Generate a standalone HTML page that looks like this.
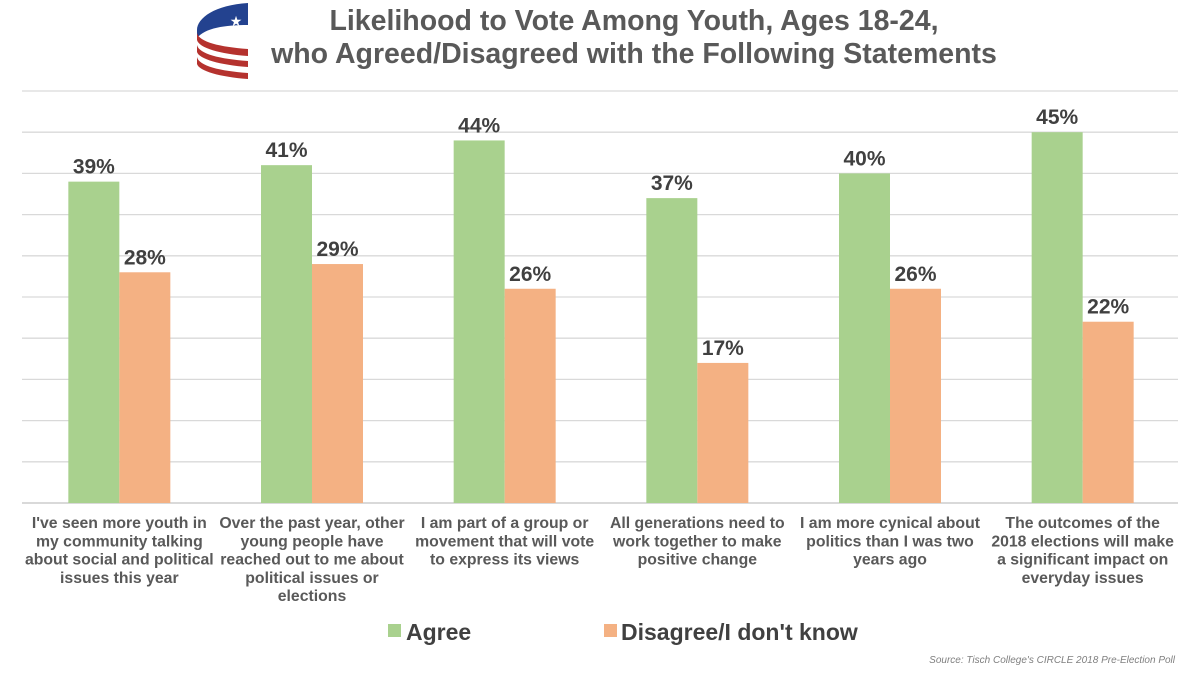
<!DOCTYPE html>
<html><head><meta charset="utf-8"><style>
body{margin:0;background:#fff;width:1200px;height:671px;overflow:hidden;font-family:"Liberation Sans",Arial,sans-serif}
</style></head><body>
<svg width="1200" height="671" font-family="Liberation Sans, Arial, sans-serif">
<g>
<path d="M248,3 L248,25 C225,25 205,28 197,38 L197,30 C197,18 215,5 248,3Z" fill="#23428f"/>
<text x="236" y="26" font-size="14" fill="#fff" text-anchor="middle">★</text>
<path d="M197,33 C199,42 220,47 248,49 L248,56 C220,54 199,48 197,40Z" fill="#b5322e"/>
<path d="M197,45 C199,54 220,59 248,61 L248,67 C220,65 199,59 197,52Z" fill="#b5322e"/>
<path d="M197,57 C199,66 220,71 248,73 L248,79 C220,77 199,71 197,64Z" fill="#b5322e"/>
</g>
<text text-anchor="middle" font-weight="bold" font-size="28.5" fill="#595959"><tspan x="634" y="30">Likelihood to Vote Among Youth, Ages 18-24,</tspan><tspan x="634" y="63">who Agreed/Disagreed with the Following Statements</tspan></text>
<g id="grid"></g><g id="bars"></g><g id="labels"></g>
<g>
<rect x="388" y="624" width="13" height="13" fill="#a9d18e"/>
<text x="406" y="640" font-size="23" font-weight="bold" fill="#404040">Agree</text>
<rect x="604" y="624" width="13" height="13" fill="#f4b183"/>
<text x="621" y="640" font-size="23" font-weight="bold" fill="#404040">Disagree/I don't know</text>
</g>
<text x="1175" y="663" text-anchor="end" font-size="10" font-style="italic" fill="#7f7f7f">Source: Tisch College's CIRCLE 2018 Pre-Election Poll</text>
</svg>
<script>
const categories=[["I've seen more youth in","my community talking","about social and political","issues this year"],["Over the past year, other","young people have","reached out to me about","political issues or","elections"],["I am part of a group or","movement that will vote","to express its views"],["All generations need to","work together to make","positive change"],["I am more cynical about","politics than I was two","years ago"],["The outcomes of the","2018 elections will make","a significant impact on","everyday issues"]];
const agree=[39,41,44,37,40,45];
const disagree=[28,29,26,17,26,22];
const ticks=[0,5,10,15,20,25,30,35,40,45,50];
const NS="http://www.w3.org/2000/svg";
const plotX0=22,plotX1=1178,plotBase=503,plotTop=91,maxV=50;
const yScale=v=>plotBase-(plotBase-plotTop)*v/maxV;
const bw=(plotX1-plotX0)/categories.length;
const cx=i=>plotX0+bw*(i+0.5);
const barW=51;
function mk(t,a,p){const e=document.createElementNS(NS,t);for(const k in a)e.setAttribute(k,a[k]);p.appendChild(e);return e;}
const g=document.getElementById('grid'),b=document.getElementById('bars'),l=document.getElementById('labels');
ticks.forEach(t=>{const e=mk('line',{x1:plotX0,x2:plotX1,y1:yScale(t),y2:yScale(t),stroke:'#d9d9d9','stroke-width':t===0?2:1.3},g);

});
categories.forEach((c,i)=>{
 [[agree[i],'#a9d18e',-barW,'agree'],[disagree[i],'#f4b183',0,'disagree']].forEach(([v,col,off,nm])=>{
  const r=mk('rect',{x:cx(i)+off+1,y:yScale(v),width:barW,height:plotBase-yScale(v),fill:col},b);
  
  
  const t=mk('text',{x:cx(i)+off+1+barW/2,y:yScale(v)-8,'text-anchor':'middle','font-size':21,'font-weight':'bold',fill:'#404040'},l);
  t.textContent=v+'%';
  
  
 });
 const t=mk('text',{'text-anchor':'middle','font-size':15.8,'font-weight':'bold',fill:'#595959'},l);
 
 
 c.forEach((line,j)=>{const s=mk('tspan',{x:cx(i)+1,y:528+j*18.3},t);s.textContent=line;});
});
</script>
</body></html>
